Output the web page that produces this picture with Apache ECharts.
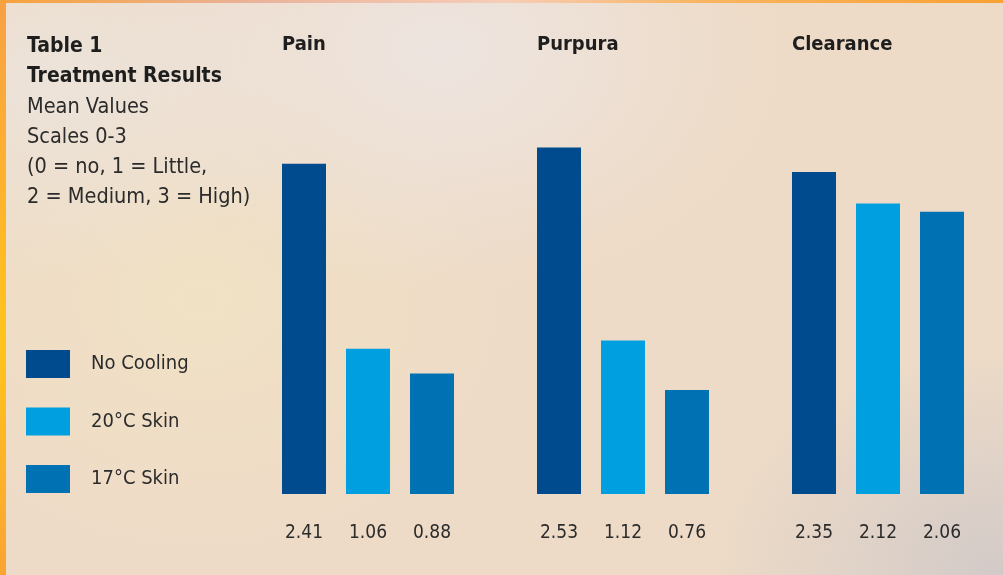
<!DOCTYPE html>
<html>
<head>
<meta charset="utf-8">
<script src="https://cdn.jsdelivr.net/npm/echarts@6/dist/echarts.min.js"></script>
<style>
    html, body { margin: 0; padding: 0; overflow: hidden; }
    #main {
        width: 1010px;
        height: 575px;
        background:
            linear-gradient(90deg, #F7A33A 0%, #E9B39A 25%, #F6CDB8 50%, #F9B560 70%, #F8A032 100%) top left / 100% 3px no-repeat,
            linear-gradient(180deg, #F8A044 0%, #FDB52A 35%, #FFC41C 60%, #F9A432 100%) top left / 6px 100% no-repeat,
            radial-gradient(ellipse 340px 240px at 440px 50px, rgba(237, 230, 228, 0.85) 0%, rgba(237, 230, 228, 0) 100%),
            radial-gradient(ellipse 260px 200px at 60px 80px, rgba(236, 228, 220, 0.9) 0%, rgba(236, 228, 220, 0) 100%),
            radial-gradient(ellipse 300px 230px at 1003px 575px, rgba(210, 202, 200, 1) 0%, rgba(214, 206, 202, 0) 100%),
            radial-gradient(ellipse 300px 250px at 200px 300px, rgba(241, 226, 196, 0.9) 0%, rgba(241, 226, 196, 0) 100%),
            #EEDBC7;
    }
</style>
</head>
<body>
<div id="main"></div>
<script>
    "use strict";

    // 分组与系列数据
    var groups = ['Pain', 'Purpura', 'Clearance'];
    var seriesNames = ['No Cooling', '20°C Skin', '17°C Skin'];
    var noCooling = [2.41, 2.53, 2.35];
    var skin20 = [1.06, 1.12, 2.12];
    var skin17 = [0.88, 0.76, 2.06];
    var colors = ['#004A8E', '#009FE0', '#0071B3'];

    var condensed = '"Liberation Sans Narrow", "DejaVu Sans Condensed", sans-serif';

    function makeBar(name, data, color) {
        return {
            name: name,
            type: 'bar',
            data: data,
            barWidth: 44,
            barGap: '45.45%',
            itemStyle: {color: color},
            label: {
                show: true,
                position: 'bottom',
                distance: 30,
                color: '#2b2b2b',
                fontFamily: condensed,
                fontSize: 19,
                formatter: function (p) {
                    return p.value.toFixed(2);
                }
            }
        };
    }

    var myChart = echarts.init(document.getElementById('main'), null, {renderer: 'canvas'});
    var option = {
        backgroundColor: 'transparent',
        animation: false,
        title: {
            left: 27,
            top: 32,
            padding: 0,
            itemGap: 0,
            text: 'Table 1\nTreatment Results',
            textStyle: {
                fontFamily: condensed,
                fontWeight: 'bold',
                fontSize: 21,
                lineHeight: 30,
                color: '#1e1e1e'
            },
            subtext: 'Mean Values\nScales 0-3\n(0 = no, 1 = Little,\n2 = Medium, 3 = High)',
            subtextStyle: {
                fontFamily: condensed,
                fontSize: 21.5,
                lineHeight: 30,
                color: '#2b2b2b'
            }
        },
        legend: {
            orient: 'vertical',
            left: 26,
            top: 350,
            padding: 0,
            itemWidth: 44,
            itemHeight: 28,
            itemGap: 29.5,
            icon: 'rect',
            data: seriesNames,
            textStyle: {
                fontFamily: condensed,
                fontSize: 20,
                color: '#2b2b2b',
                padding: [0, 0, 0, 16]
            }
        },
        grid: {
            left: 240.5,
            right: 4.5,
            top: 83,
            bottom: 81
        },
        xAxis: [
            {
                type: 'category',
                data: groups,
                axisLine: {show: false},
                axisTick: {show: false},
                axisLabel: {show: false}
            },
            {
                type: 'category',
                position: 'top',
                data: groups,
                axisLine: {show: false},
                axisTick: {show: false},
                axisLabel: {
                    margin: 28,
                    formatter: function (v) {
                        return '{t|' + v + '}';
                    },
                    rich: {
                        t: {
                            width: 172,
                            align: 'left',
                            fontFamily: condensed,
                            fontWeight: 'bold',
                            fontSize: 20,
                            color: '#1e1e1e'
                        }
                    }
                }
            }
        ],
        yAxis: {
            type: 'value',
            min: 0,
            max: 3,
            show: false,
            splitLine: {show: false}
        },
        series: [
            makeBar(seriesNames[0], noCooling, colors[0]),
            makeBar(seriesNames[1], skin20, colors[1]),
            makeBar(seriesNames[2], skin17, colors[2])
        ]
    };
    myChart.setOption(option);
</script>
</body>
</html>
